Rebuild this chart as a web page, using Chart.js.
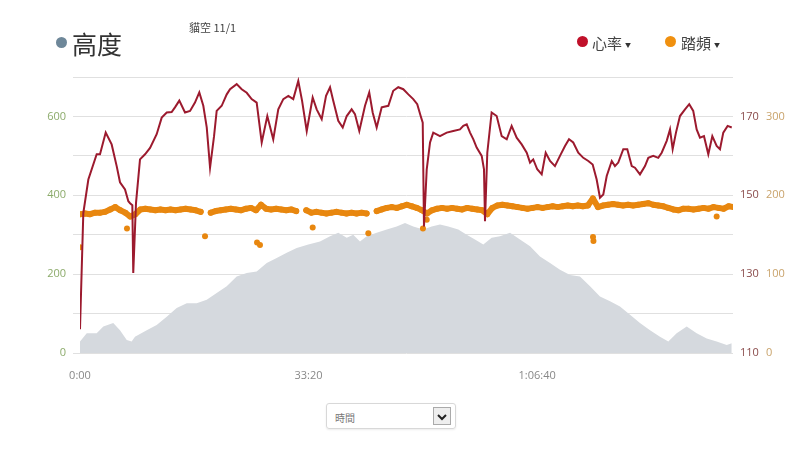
<!DOCTYPE html>
<html>
<head>
<meta charset="utf-8">
<script src="https://cdn.jsdelivr.net/npm/chart.js@4"></script>
<style>
  body { margin: 0; background: #fff; font-family: "Open Sans", "Noto Sans CJK TC", sans-serif; }
  #wrap { position: relative; width: 808px; height: 451px; overflow: hidden; }
  #box { position: absolute; left: 0; top: 0; width: 808px; height: 380px; }
  .dot { position: absolute; border-radius: 50%; }
  .txt { position: absolute; white-space: nowrap; color: #444; font-family: "Noto Sans CJK TC", sans-serif; }
  .caret { font-size: 6px; margin-left: 3px; vertical-align: middle; color: #333; }
  #sel { position: absolute; left: 326px; top: 403px; width: 130px; height: 26px; border: 1px solid #d8d8d8;
         border-radius: 3px; box-shadow: 0 1px 2px rgba(0,0,0,0.08); box-sizing: border-box; }
  #sel span { position: absolute; left: 8px; top: 6px; font-size: 10px; color: #777; font-family: "Noto Sans CJK TC", sans-serif; }
  #sel b { position: absolute; left: 106px; top: 3px; width: 18px; height: 18px; border: 1px solid #aaa;
           background: #eee; box-sizing: border-box; }
</style>
</head>
<body>
<div id="wrap">
  <div id="box"><canvas id="c"></canvas></div>

  <div class="dot" style="left:56px;top:37px;width:11px;height:11px;background:#6e8799;"></div>
  <div class="txt" style="left:72px;top:25px;font-size:25px;color:#333;">高度</div>
  <div class="txt" style="left:189px;top:19px;font-size:11px;color:#444;">貓空 11/1</div>

  <div class="dot" style="left:577px;top:36px;width:11px;height:11px;background:#c0102a;"></div>
  <div class="txt" style="left:592px;top:32px;font-size:15px;">心率<span class="caret">▼</span></div>
  <div class="dot" style="left:665px;top:36px;width:11px;height:11px;background:#f0900f;"></div>
  <div class="txt" style="left:681px;top:32px;font-size:15px;">踏頻<span class="caret">▼</span></div>

  <div id="sel"><span>時間</span><b><svg width="16" height="16" viewBox="0 0 16 16"><path d="M4 6 L8 10 L12 6" stroke="#222" stroke-width="2" fill="none"/></svg></b></div>
</div>

<script>
// time in seconds
const hrTime = [0, 29, 73, 146, 175, 225, 277, 321, 350, 394, 423, 438, 458, 466, 490, 525, 569, 613, 671, 715,
  759, 802, 831, 869, 919, 963, 1006, 1044, 1079, 1109, 1138, 1173, 1196, 1240, 1284, 1313, 1371, 1415, 1459, 1502,
  1546, 1590, 1639, 1691, 1735, 1779, 1823, 1866, 1910, 1943, 1984, 2036, 2071, 2115, 2153, 2188, 2216, 2260, 2299, 2334,
  2377, 2406, 2444, 2494, 2531, 2561, 2596, 2640, 2698, 2741, 2785, 2829, 2873, 2916, 2951, 2981, 2999, 3010, 3034, 3063,
  3091, 3150, 3209, 3266, 3325, 3354, 3384, 3413, 3442, 3471, 3515, 3535, 3544, 3564, 3602, 3646, 3690, 3734, 3777, 3821,
  3865, 3909, 3938, 3966, 4001, 4040, 4075, 4113, 4156, 4200, 4244, 4279, 4316, 4360, 4404, 4448, 4486, 4521, 4550, 4579,
  4609, 4653, 4681, 4710, 4754, 4789, 4828, 4856, 4900, 4944, 4973, 5016, 5060, 5090, 5134, 5163, 5186, 5215, 5250, 5294,
  5331, 5366, 5396, 5425, 5460, 5498, 5533, 5571, 5600, 5629, 5667, 5703];
const hrVal = [116, 145.5, 154, 160.4, 160.4, 165.9, 162.9, 157.4, 153.3, 151.5, 148.5, 148, 147.5, 130.3, 148, 159.1, 160.4, 162, 165.5, 169.7,
  171, 171.1, 172.3, 174, 171, 171.4, 173.5, 176.1, 172.7, 167.2, 157, 165, 171.4, 172.7, 175.6, 176.9, 178.2, 176.9, 176, 174.4,
  173.5, 163.4, 170.1, 164.2, 171.8, 174.4, 175.2, 174.4, 179, 174, 166.3, 174.8, 171.8, 169.3, 175.2, 177.4, 174, 168.9, 167.2, 170.1,
  171.8, 170.6, 166.3, 172.7, 176.1, 171, 167.2, 172.3, 172.7, 176.5, 177.4, 176.9, 175.6, 174.4, 173.1, 170.1, 168.4, 142.1, 156.6, 163.4,
  165.9, 165, 165.9, 166.3, 166.7, 167.6, 168, 165.9, 164.2, 162.1, 160, 156.6, 143.4, 160.8, 171, 170.1, 165, 164.2, 167.6, 164.6,
  162.9, 160.8, 158.3, 159.1, 156.6, 155.3, 160.8, 158.7, 157.4, 160, 162.5, 164.2, 163.4, 160.8, 159.5, 158.7, 157.8, 154, 149.4, 150.2,
  154.9, 158.7, 157.4, 158.3, 161.7, 161.7, 157.4, 157, 155.3, 157.4, 159.5, 160, 159.5, 160.8, 163.8, 166.7, 161.7, 165.9, 170.1, 171.8,
  173.1, 171.4, 166.7, 164.6, 165, 160.4, 165, 162.5, 161.7, 165.9, 167.6, 167.2];

const altTime = [0, 59, 146, 204, 291, 350, 409, 452, 481, 584, 671, 759, 846, 934, 1021, 1109, 1196, 1284, 1371, 1459,
  1546, 1634, 1721, 1809, 1896, 1998, 2100, 2188, 2260, 2334, 2391, 2450, 2509, 2596, 2684, 2771, 2844, 2916, 3004, 3077,
  3150, 3223, 3310, 3384, 3456, 3529, 3602, 3675, 3763, 3850, 3938, 4025, 4113, 4200, 4288, 4375, 4463, 4550, 4638, 4725,
  4813, 4900, 4988, 5075, 5148, 5221, 5309, 5396, 5484, 5571, 5659, 5703];
const altVal = [29, 50, 50, 67, 76, 58, 33, 29, 41, 58, 71, 92, 114, 126, 126, 135, 152, 169, 194, 203,
  207, 228, 241, 254, 266, 275, 283, 296, 305, 292, 300, 283, 296, 305, 313, 321, 330, 321, 313, 321,
  326, 321, 313, 300, 288, 275, 292, 296, 305, 288, 271, 245, 228, 211, 198, 194, 169, 143, 131, 118,
  97, 76, 58, 41, 29, 50, 67, 50, 37, 29, 20, 25];

// cadence sampled every 44 s
const cadStep = 44;
const cadVal = [176, 177, 176, 178, 178, 179, 182, 185, 181, 178, 173, 176, 182, 183, 182, 181, 182, 181, 182, 181,
  182, 183, 182, 181, 179, null, 178, 180, 181, 182, 183, 182, 181, 183, 184, 181, 188, 183, 182, 183,
  182, 181, 182, 180, null, 181, 178, 179, 178, 177, 178, 179, 178, 177, 178, 177, 178, 177, null, 180,
  182, 184, 185, 184, 186, 188, 186, 184, 181, 177, 181, 183, 184, 183, 184, 183, 182, 184, 183, 182,
  181, 176, 184, 187, 188, 187, 186, 185, 184, 183, 184, 185, 184, 185, 186, 185, 186, 187, 186, 187,
  186, 187, 196, 185, 187, 188, 189, 188, 187, 188, 187, 188, 189, 190, 188, 187, 186, 184, 182, 181,
  183, 183, 182, 183, 184, 183, 185, 184, 183, 186, 185];
const cadOutTime = [0, 411, 1094, 1549, 1575, 2036, 2523, 3001, 3034, 4489, 4493, 5571];
const cadOutVal = [134, 158, 148, 140, 137, 159, 152, 158, 169, 147, 142, 173];

const xTicks = [0, 2000, 4000];

function fmtTime(s) {
  const h = Math.floor(s / 3600), m = Math.floor((s % 3600) / 60), sec = s % 60;
  const pad = n => String(n).padStart(2, '0');
  return h > 0 ? h + ':' + pad(m) + ':' + pad(sec) : m + ':' + pad(sec);
}

const pts = (xs, ys) => xs.map((x, i) => ({ x: x, y: ys[i] }));
const tickFont = { family: 'Open Sans', size: 11 };

new Chart(document.getElementById('c'), {
  type: 'line',
  data: {
    datasets: [
      { label: '心率', data: pts(hrTime, hrVal), yAxisID: 'yHr', borderColor: '#9c1a2e', borderWidth: 2,
        pointRadius: 0, tension: 0, order: 1 },
      // dense cadence dots rendered as a thick round-capped band
      { label: '踏頻', data: cadVal.map((v, i) => ({ x: i * cadStep, y: v })), yAxisID: 'yCad',
        borderColor: '#e8870f', borderWidth: 6, borderCapStyle: 'round', borderJoinStyle: 'round',
        pointRadius: 3, pointBackgroundColor: '#e8870f', pointBorderWidth: 0, spanGaps: false, order: 2 },
      { label: '踏頻2', data: pts(cadOutTime, cadOutVal), yAxisID: 'yCad', showLine: false,
        pointRadius: 3, pointBackgroundColor: '#e8870f', pointBorderWidth: 0, order: 2 },
      { label: '高度', data: pts(altTime, altVal), yAxisID: 'yAlt', borderWidth: 0, pointRadius: 0,
        backgroundColor: '#d5d9de', fill: 'origin', order: 3 }
    ]
  },
  options: {
    responsive: true,
    maintainAspectRatio: false,
    animation: false,
    devicePixelRatio: 1,
    layout: { padding: { top: 77, left: 0, right: 0, bottom: 0 } },
    plugins: { legend: { display: false }, tooltip: { enabled: false } },
    scales: {
      x: {
        type: 'linear', min: 0, max: 5714,
        grid: { display: false }, border: { display: false },
        afterBuildTicks: s => { s.ticks = xTicks.map(v => ({ value: v })); },
        afterFit: s => { s.height = 27; },
        ticks: { color: '#888', font: tickFont, padding: 8, maxRotation: 0, callback: v => fmtTime(v) }
      },
      yAlt: {
        position: 'left', min: 0, max: 700,
        border: { display: false },
        grid: { color: '#e0e0e0', tickLength: 7, tickColor: '#e0e0e0' },
        afterFit: s => { s.width = 80; },
        ticks: { stepSize: 100, color: '#8cab6b', font: tickFont, padding: 7, callback: v => v % 200 === 0 ? v : '' }
      },
      yHr: {
        position: 'right', min: 110, max: 180,
        border: { display: false },
        grid: { display: false, drawTicks: false },
        afterFit: s => { s.width = 26; },
        ticks: { stepSize: 10, color: '#8a4b4b', font: tickFont, padding: 7, callback: v => (v - 110) % 20 === 0 ? v : '' }
      },
      yCad: {
        position: 'right', min: 0, max: 350,
        border: { display: false },
        grid: { display: false, drawTicks: false },
        afterFit: s => { s.width = 49; },
        ticks: { stepSize: 50, color: '#c9a36b', font: tickFont, padding: 7, callback: v => v % 100 === 0 ? v : '' }
      }
    }
  }
});
</script>
</body>
</html>
